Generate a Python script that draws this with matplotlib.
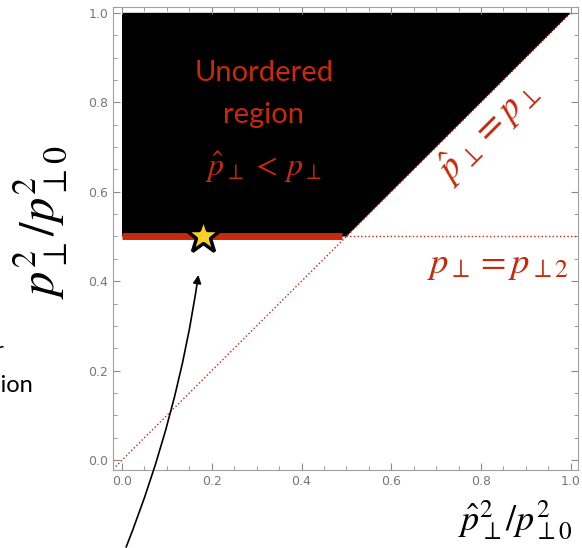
import numpy as np
import matplotlib.pyplot as plt

plt.rcParams['mathtext.fontset'] = 'stix'

# region boundaries (in units of p_perp0^2)
region_x = [0.0, 0.0, 1.0, 0.5]
region_y = [0.5, 1.0, 1.0, 0.5]
diag_x = [-0.02, 1.0]
diag_y = [-0.02, 1.0]
p2_level = 0.5
line_x = [0.0, 0.49]
star_x = 0.18
star_y = 0.5
xticks = [0.0, 0.2, 0.4, 0.6, 0.8, 1.0]
yticks = [0.0, 0.2, 0.4, 0.6, 0.8, 1.0]

red = '#c8280c'
gray = '#8a8a8a'

fig = plt.figure(figsize=(5.82, 5.48), dpi=100)
ax = fig.add_axes([113/582, 78/548, 465/582, 463/548])

ax.fill(region_x, region_y, color='black', lw=0, zorder=1)
ax.plot(diag_x, diag_y, ls=':', color=red, lw=1.0, zorder=2)
ax.plot([0.5, 1.02], [p2_level, p2_level], ls=':', color=red, lw=1.0, zorder=2)
ax.plot(line_x, [p2_level, p2_level], color=red, lw=5, solid_capstyle='butt', zorder=3)
ax.plot([star_x], [star_y], marker='*', ms=26, mfc='#f8d02c', mec='black', mew=2.5, zorder=4)

ax.text(0.316, 0.866, 'Unordered', color=red, fontsize=21, family='Lato',
        ha='center', va='center')
ax.text(0.316, 0.772, 'region', color=red, fontsize=21, family='Lato',
        ha='center', va='center')
ax.text(0.316, 0.655, r'$\hat{p}_\perp\, <\, p_\perp$', color=red, fontsize=23, ha='center', va='center')
ax.text(0.815, 0.735, r'$\hat{p}_\perp = p_\perp$', color=red, fontsize=27, rotation=45,
        ha='center', va='center', rotation_mode='anchor')
ax.text(0.837, 0.44, r'$p_\perp = p_{\perp 2}$', color=red, fontsize=26.5, ha='center', va='center')

ax.annotate('', xy=(0.171, 0.42), xytext=(0.007, -0.2), annotation_clip=False,
            arrowprops=dict(arrowstyle='-|>', color='black', lw=1.2,
                            connectionstyle='arc3,rad=0.06', mutation_scale=12))

ax.set_xlim(-0.02, 1.016)
ax.set_ylim(-0.022, 1.013)
ax.set_xticks(xticks)
ax.set_yticks(yticks)
ax.set_xticklabels(['%.1f' % v for v in xticks])
ax.set_yticklabels(['%.1f' % v for v in yticks])
ax.set_xticks(np.arange(0, 1.01, 0.05), minor=True)
ax.set_yticks(np.arange(0, 1.01, 0.05), minor=True)
ax.tick_params(which='both', direction='in', top=True, right=True, colors=gray,
               labelsize=9, labelcolor='#777777')
ax.tick_params(which='major', length=5)
ax.tick_params(which='minor', length=3)
for s in ax.spines.values():
    s.set_color('#a0a0a0')

fig.text(40/582, 1 - 222/548, r'$p_\perp^2/p_{\perp 0}^2$', fontsize=35, rotation=90,
         ha='center', va='center')
fig.text(515/582, 1 - 520/548, r'$\hat{p}_\perp^2/p_{\perp 0}^2$', fontsize=26,
         ha='center', va='center')

# side label, partly outside the figure as in the original
fig.text(33/582, 1 - 385/548, 'region', fontsize=17, family='Lato', ha='right', va='center')
fig.text(5/582, 1 - 352/548, 'Order', fontsize=17, family='Lato', ha='right', va='center')

plt.savefig('out.png', dpi=100)
